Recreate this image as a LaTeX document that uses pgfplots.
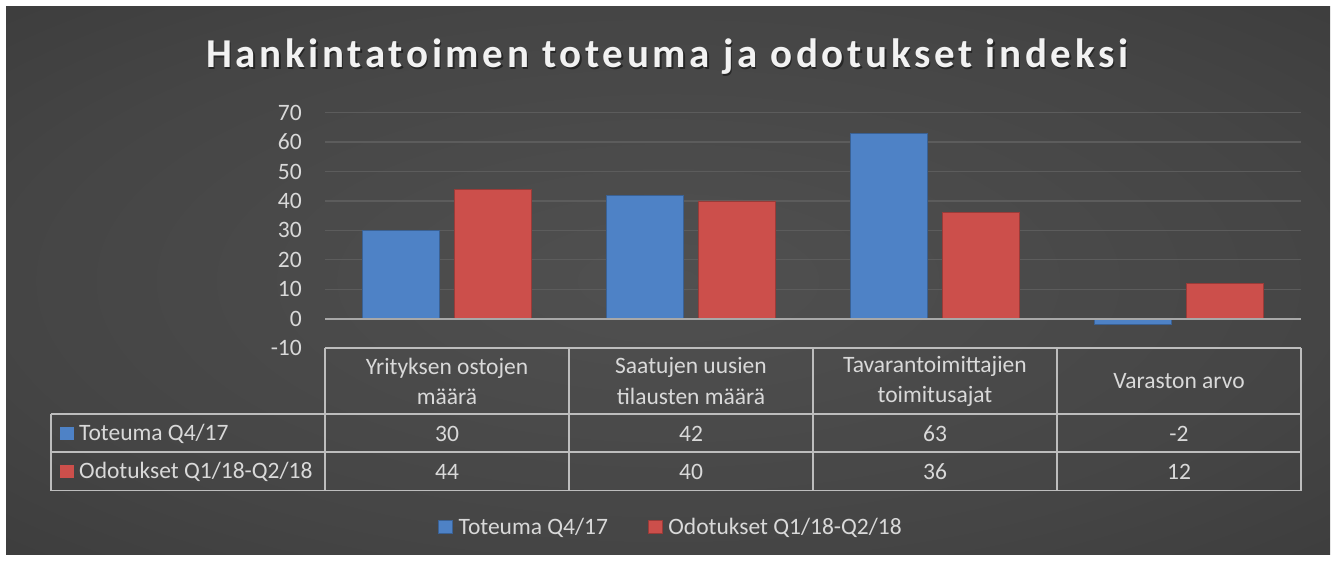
\documentclass[border=0pt]{standalone}
\usepackage{pgfplots}
\pgfplotsset{compat=1.18}
\usepackage{fontspec}
\setmainfont{Carlito}
\newfontfamily\titlefont[LetterSpace=9.0]{Carlito}
\definecolor{bluebar}{HTML}{4E82C6}
\definecolor{redbar}{HTML}{CC4F4B}
\definecolor{txt}{HTML}{D9D9D9}
\definecolor{gridc}{HTML}{5C5C5C}
\definecolor{tbl}{HTML}{BDBDBD}
\definecolor{zerol}{HTML}{A8A8A8}
\definecolor{bgin}{HTML}{505050}
\definecolor{bgmid}{HTML}{454545}
\definecolor{bgout}{HTML}{242424}
\pgfdeclareradialshading{bgshade}{\pgfpoint{0bp}{0bp}}{color(0bp)=(bgin); color(25bp)=(bgmid); color(72bp)=(bgout)}
\newcommand{\tf}{\fontsize{23.5}{30}\selectfont}
\begin{document}
\begin{tikzpicture}[x=1pt,y=1pt]
\useasboundingbox (0,0) rectangle (1335,560);
\fill[white] (0,0) rectangle (1335,560);
\shade[shading=bgshade] (6,6) rectangle (1330,553);
\node[anchor=base, text=black, opacity=0.45, font=\titlefont\bfseries\fontsize{41}{49}\selectfont] at (668.5,490.5) {Hankintatoimen toteuma ja odotukset indeksi};
\node[anchor=base, text=white!95!black, font=\titlefont\bfseries\fontsize{41}{49}\selectfont] at (667,492) {Hankintatoimen toteuma ja odotukset indeksi};
\begin{axis}[
  at={(325pt,212pt)}, anchor=south west,
  scale only axis, width=976pt, height=235.3pt,
  xmin=-0.5, xmax=3.5, ymin=-10, ymax=70,
  ytick={-10,0,10,20,30,40,50,60,70},
  xtick={0,1,2,3},
  xticklabels={{Yrityksen ostojen\\määrä},{Saatujen uusien\\tilausten määrä},{Tavarantoimittajien\\toimitusajat},{Varaston arvo}},
  xticklabel style={anchor=center, yshift=-33pt, align=center, font=\tf, text=txt},
  yticklabel style={anchor=east, inner sep=0pt, xshift=-23pt, font=\tf, text=txt},
  /pgf/number format/assume math mode=true,
  ybar=15pt, bar width=77pt,
  axis line style={draw=none},
  major tick length=0pt,
  ymajorgrids, grid style={gridc, line width=1.3pt},
  clip=false,
  legend style={at={(0.3545,-0.761)}, anchor=center, draw=none, fill=none, legend columns=2, font=\tf, text=txt,
    /tikz/every even column/.append style={column sep=38pt}},
  legend image code/.code={\fill[#1] (0pt,-6.5pt) rectangle (14pt,6.5pt); \path[draw=none,fill=none] (18pt,0pt);},
]
\addplot[fill=bluebar, draw=bluebar!75!black, line width=0.8pt] coordinates {(0,30) (1,42) (2,63) (3,-2)};
\addplot[fill=redbar, draw=redbar!75!black, line width=0.8pt] coordinates {(0,44) (1,40) (2,36) (3,12)};
\legend{Toteuma Q4/17, Odotukset Q1/18-Q2/18}
\draw[zerol, line width=2pt] (axis cs:-0.5,0) -- (axis cs:3.5,0);
\end{axis}
% data table
\begin{scope}[tbl, line width=1.3pt]
\draw (325,212) -- (1301,212);
\draw (51,146) -- (1301,146);
\draw (51,108) -- (1301,108);
\draw (51,69.3) -- (1301,69.3);
\draw (51,146) -- (51,69.3);
\foreach \x in {325,569,813,1057,1301} {\draw (\x,212) -- (\x,69.3);}
\end{scope}
\fill[bluebar] (60,120.5) rectangle (74,133.5);
\fill[redbar] (60,82) rectangle (74,95);
\node[anchor=west, inner sep=0pt, text=txt, font=\tf] at (79,126) {Toteuma Q4/17};
\node[anchor=west, inner sep=0pt, text=txt, font=\tf] at (79,88) {Odotukset Q1/18-Q2/18};
\foreach \x/\a/\b in {447/30/44, 691/42/40, 935/63/36, 1179/-2/12} {
  \node[text=txt, font=\tf] at (\x,126) {\a};
  \node[text=txt, font=\tf] at (\x,88) {\b};
}
\end{tikzpicture}
\end{document}
